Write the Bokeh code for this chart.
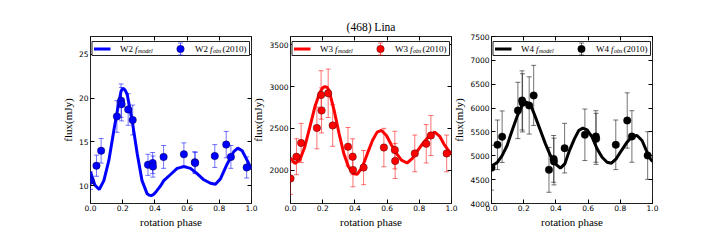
from bokeh.plotting import figure
from bokeh.layouts import row
from bokeh.models import (Range1d, FixedTicker, PrintfTickFormatter, LinearAxis, Whisker,
                          TeeHead, ColumnDataSource, BoxAnnotation, Label, CustomJSTickFormatter)
from bokeh.embed import file_html
from bokeh.resources import INLINE

# ---------------- data ----------------
phase = [0.0, 0.037, 0.066, 0.164, 0.19, 0.193, 0.234, 0.262, 0.357, 0.386, 0.388,
         0.454, 0.58, 0.648, 0.65, 0.772, 0.843, 0.872, 0.97]

w2_obs = [10.6, 12.3, 14.0, 17.9, 19.7, 19.3, 18.7, 17.5, 12.4, 12.6, 12.2,
          13.3, 13.6, 12.7, 12.6, 13.4, 14.7, 13.3, 12.1]
w2_err = [1.0, 1.2, 1.4, 1.8, 1.9, 1.9, 1.8, 1.7, 1.2, 1.2, 1.2,
          1.3, 1.3, 1.2, 1.2, 1.3, 1.5, 1.3, 1.2]

w3_obs = [1900, 2160, 2325, 2505, 2900, 2715, 2920, 2535, 2280, 2160, 2000,
          2030, 2270, 2240, 2110, 2200, 2315, 2415, 2200]
w3_err = [190, 215, 235, 250, 290, 270, 290, 250, 230, 215, 200,
          205, 230, 225, 210, 220, 230, 240, 220]

w4_obs = [4750, 5230, 5400, 5950, 6160, 6110, 6055, 6265, 4705, 4935, 4880,
          5160, 5440, 5405, 5355, 5230, 5740, 5405, 5005]
w4_err = [470, 520, 540, 590, 620, 610, 600, 630, 470, 490, 490,
          520, 540, 540, 535, 520, 580, 540, 500]

w2_model_phase = [0.0, 0.027, 0.054, 0.083, 0.114, 0.145, 0.176, 0.19, 0.203, 0.215, 0.228,
                  0.259, 0.29, 0.32, 0.352, 0.365, 0.377, 0.39, 0.41, 0.435, 0.455, 0.497,
                  0.538, 0.58, 0.621, 0.662, 0.704, 0.745, 0.776, 0.807, 0.849, 0.89, 0.915,
                  0.942, 0.973, 1.0]
w2_model = [11.6, 10.1, 9.6, 10.6, 12.9, 16.3, 19.5, 20.8, 21.1, 20.9, 20.4,
            17.4, 13.7, 10.6, 9.1, 8.95, 8.9, 9.0, 9.4, 10.0, 10.6, 11.3,
            12.0, 12.2, 12.0, 11.4, 10.7, 10.3, 10.2, 10.8, 12.5, 13.9, 14.3,
            14.0, 12.9, 11.9]

w3_model_phase = [0.0, 0.027, 0.058, 0.089, 0.12, 0.151, 0.182, 0.2, 0.213, 0.228, 0.24,
                  0.271, 0.302, 0.331, 0.36, 0.389, 0.414, 0.447, 0.478, 0.509, 0.538,
                  0.565, 0.596, 0.627, 0.658, 0.689, 0.724, 0.757, 0.792, 0.828, 0.865,
                  0.896, 0.927, 0.952, 0.979, 1.0]
w3_model = [2145, 2080, 2120, 2280, 2515, 2755, 2930, 2985, 3000, 2990, 2950,
            2715, 2435, 2200, 2040, 1960, 1950, 2040, 2200, 2355, 2455,
            2475, 2415, 2300, 2200, 2120, 2085, 2140, 2240, 2335, 2415,
            2455, 2405, 2315, 2240, 2190]

w4_model_phase = [0.0, 0.037, 0.066, 0.097, 0.128, 0.159, 0.19, 0.215, 0.242, 0.273, 0.304,
                  0.335, 0.366, 0.397, 0.428, 0.455, 0.484, 0.515, 0.542, 0.567, 0.594,
                  0.625, 0.656, 0.687, 0.718, 0.745, 0.774, 0.807, 0.842, 0.873, 0.904,
                  0.935, 0.962, 0.987, 1.0]
w4_model = [4780, 4865, 5005, 5215, 5530, 5825, 6055, 6125, 6075, 5810, 5530,
            5250, 5005, 4830, 4740, 4830, 5110, 5355, 5530, 5580, 5545,
            5390, 5145, 4970, 4865, 4845, 4935, 5110, 5285, 5405, 5425,
            5320, 5110, 4935, 4880]

x_ticks = [0.0, 0.2, 0.4, 0.6, 0.8, 1.0]
w2_ticks = [10, 15, 20, 25]
w3_ticks = [2000, 2500, 3000, 3500]
w4_ticks = [4000, 4500, 5000, 5500, 6000, 6500, 7000, 7500]

# ---------------- style ----------------
FW, FH = 161, 167
SERIF = "Liberation Serif"
SANS = "DejaVu Sans"


def panel(band, color, obs, err, mphase, model, yr, yticks, left_border, margin_left, title=None):
    kw = dict(x_range=Range1d(0, 1), y_range=Range1d(*yr), frame_width=FW, frame_height=FH,
              min_border_left=left_border, min_border_right=10, min_border_top=36,
              min_border_bottom=30, toolbar_location=None, output_backend="svg",
              border_fill_color=None, background_fill_color="white",
              margin=(0, 0, 0, margin_left))
    if title:
        kw["title"] = title
    p = figure(**kw)
    p.outline_line_color = "#222222"
    p.grid.visible = False
    if title:
        p.title.text_font = SERIF
        p.title.text_font_size = "11.5px"
        p.title.text_font_style = "normal"
        p.title.text_color = "black"
        p.title.align = "center"
        p.title.vertical_align = "bottom"
        p.title.standoff = 8

    for ax in (p.xaxis[0], p.yaxis[0]):
        ax.major_tick_in = 4
        ax.major_tick_out = 0
        ax.minor_tick_line_color = None
        ax.axis_line_color = None
        ax.major_label_text_font = SANS
        ax.major_label_text_font_size = "7.5px"
        ax.major_label_text_color = "black"
        ax.axis_label_text_font = SERIF
        ax.axis_label_text_font_size = "11px"
        ax.axis_label_text_font_style = "normal"
        ax.axis_label_text_color = "black"
        ax.major_label_standoff = 2
        ax.axis_label_standoff = 2
    p.xaxis.ticker = FixedTicker(ticks=x_ticks)
    p.xaxis.formatter = PrintfTickFormatter(format="%.1f")
    p.yaxis.ticker = FixedTicker(ticks=yticks)
    p.yaxis.formatter = PrintfTickFormatter(format="%d")
    p.xaxis.axis_label = "rotation phase"
    p.yaxis.axis_label = "flux(mJy)"
    p.xaxis.major_label_standoff = 1
    p.xaxis.axis_label_standoff = 2

    for loc, ticks in (("above", x_ticks), ("right", yticks)):
        ax = LinearAxis(ticker=FixedTicker(ticks=ticks),
                        formatter=CustomJSTickFormatter(code="return ''"),
                        major_tick_in=4, major_tick_out=0, minor_tick_line_color=None,
                        axis_line_color=None, major_label_standoff=0,
                        major_label_text_font_size="1px")
        p.add_layout(ax, loc)

    # model curve
    p.line(mphase, model, line_width=3, color=color)
    # error bars
    src = ColumnDataSource(dict(x=phase, y=obs,
                                lo=[o - e for o, e in zip(obs, err)],
                                hi=[o + e for o, e in zip(obs, err)]))
    p.add_layout(Whisker(source=src, base="x", lower="lo", upper="hi",
                         line_color=color, line_alpha=0.55, line_width=1,
                         upper_head=TeeHead(size=5, line_color=color, line_alpha=0.55),
                         lower_head=TeeHead(size=5, line_color=color, line_alpha=0.55)))
    p.scatter("x", "y", source=src, size=7.5, fill_color=color, line_color="black",
              line_width=0.5, line_alpha=0.7)

    # legend (positions in pixels relative to frame top-left)
    y0, y1 = yr

    def dx(px):
        return px / FW

    def dy(px):
        return y1 - px / FH * (y1 - y0)

    p.add_layout(BoxAnnotation(left=dx(1.5), right=dx(159), top=dy(5), bottom=dy(19),
                               fill_color="white", fill_alpha=1, line_color="#222222",
                               line_width=1, line_alpha=1))
    p.line([dx(3.5), dx(20)], [dy(12.5), dy(12.5)], line_width=3, color=color, level="overlay")
    p.add_layout(Whisker(base=dx(90), lower=dy(18.5), upper=dy(6.5), dimension="height",
                         line_color=color, line_alpha=0.55, level="overlay",
                         upper_head=TeeHead(size=5, line_color=color, line_alpha=0.55),
                         lower_head=TeeHead(size=5, line_color=color, line_alpha=0.55)))
    p.scatter([dx(90)], [dy(12.5)], size=7.5, fill_color=color, line_color="black",
              line_width=0.5, line_alpha=0.7, level="overlay")

    def lab(x, yy, text, size="9px", style="normal"):
        p.add_layout(Label(x=dx(x), y=dy(yy), text=text, text_font=SERIF,
                           text_font_size=size, text_font_style=style,
                           text_baseline="middle", text_align="left",
                           text_color="black", level="overlay"))

    lab(29.5, 12.5, band)
    lab(44.5, 12.5, "f", style="italic")
    lab(47.5, 14.5, "model", size="6px", style="italic")
    lab(104.5, 12.5, band)
    lab(119.5, 12.5, "f", style="italic")
    lab(122.5, 14.5, "obs", size="6px", style="italic")
    lab(132, 12.5, "(2010)")
    return p


p1 = panel("W2", "#0000ff", w2_obs, w2_err, w2_model_phase, w2_model, (8, 27), w2_ticks, 90, 0)
p2 = panel("W3", "#ff0000", w3_obs, w3_err, w3_model_phase, w3_model, (1600, 3600), w3_ticks, 40, -12,
           title="(468) Lina")
p3 = panel("W4", "#000000", w4_obs, w4_err, w4_model_phase, w4_model, (4000, 7500), w4_ticks, 40, -11)

layout = row(p1, p2, p3)
open("out.html", "w").write(file_html(layout, INLINE))
